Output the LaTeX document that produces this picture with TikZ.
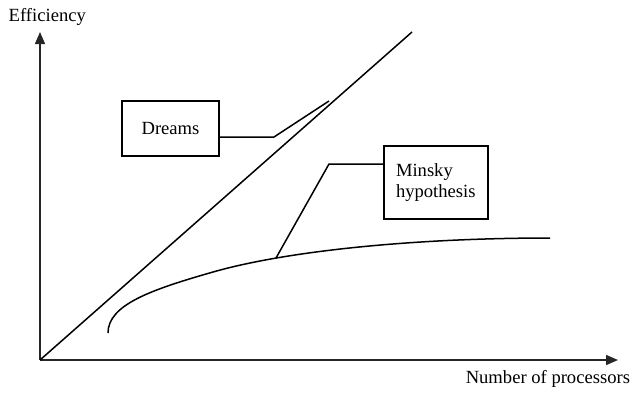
\documentclass[tikz,border=0pt]{standalone}
\usepackage{fontspec}
\setmainfont{Liberation Serif}
\newfontfamily\labelfont{Liberation Serif}
\usetikzlibrary{arrows.meta}
\begin{document}
\begin{tikzpicture}[x=1pt, y=-1pt,
  font=\labelfont\fontsize{18.6}{21}\selectfont,
  line width=1.5pt,
  axis/.style={line width=1.4pt, draw=black!85, -{Triangle[length=12pt,width=10pt]}},
  labelbox/.style={draw, line width=1.6pt, inner sep=0pt},
  axislabel/.style={anchor=base west, inner sep=0pt}]
\useasboundingbox (0,0) rectangle (634,392);

% axes
\coordinate (O) at (40,360);
\coordinate (ytip) at (40,32);
\coordinate (xtip) at (618,360);
\draw[axis] (O) -- (ytip);
\draw[axis] (O) -- (xtip);
\node[axislabel] (ylab) at (8,21) {Efficiency};
\node[axislabel] (xlab) at (465,383) {Number of processors};

% linear "dreams" line
\coordinate (dtop) at (412,32);
\draw (O) -- (dtop);

% saturating curve
\coordinate (c0) at (108,333);
\coordinate (c1) at (213,272);
\coordinate (c2) at (550,238);
\draw (c0) .. controls (108,305) and (150,290) .. (c1)
           .. controls (290,250) and (420,238) .. (c2);

% callout boxes
\node[labelbox, minimum width=97, minimum height=55] (dreams) at (170.5,128.5) {Dreams};
\node[labelbox, minimum width=104, minimum height=73, text width=80, align=left] (minsky) at (436,182.5) {Minsky\\hypothesis};

% callout leaders
\coordinate (djoint) at (274,137);
\coordinate (dend) at (329,101);
\draw (dreams.east |- djoint) -- (djoint) -- (dend);
\coordinate (mjoint) at (329,164);
\coordinate (mend) at (276,258);
\draw (minsky.west |- mjoint) -- (mjoint) -- (mend);
\end{tikzpicture}
\end{document}
